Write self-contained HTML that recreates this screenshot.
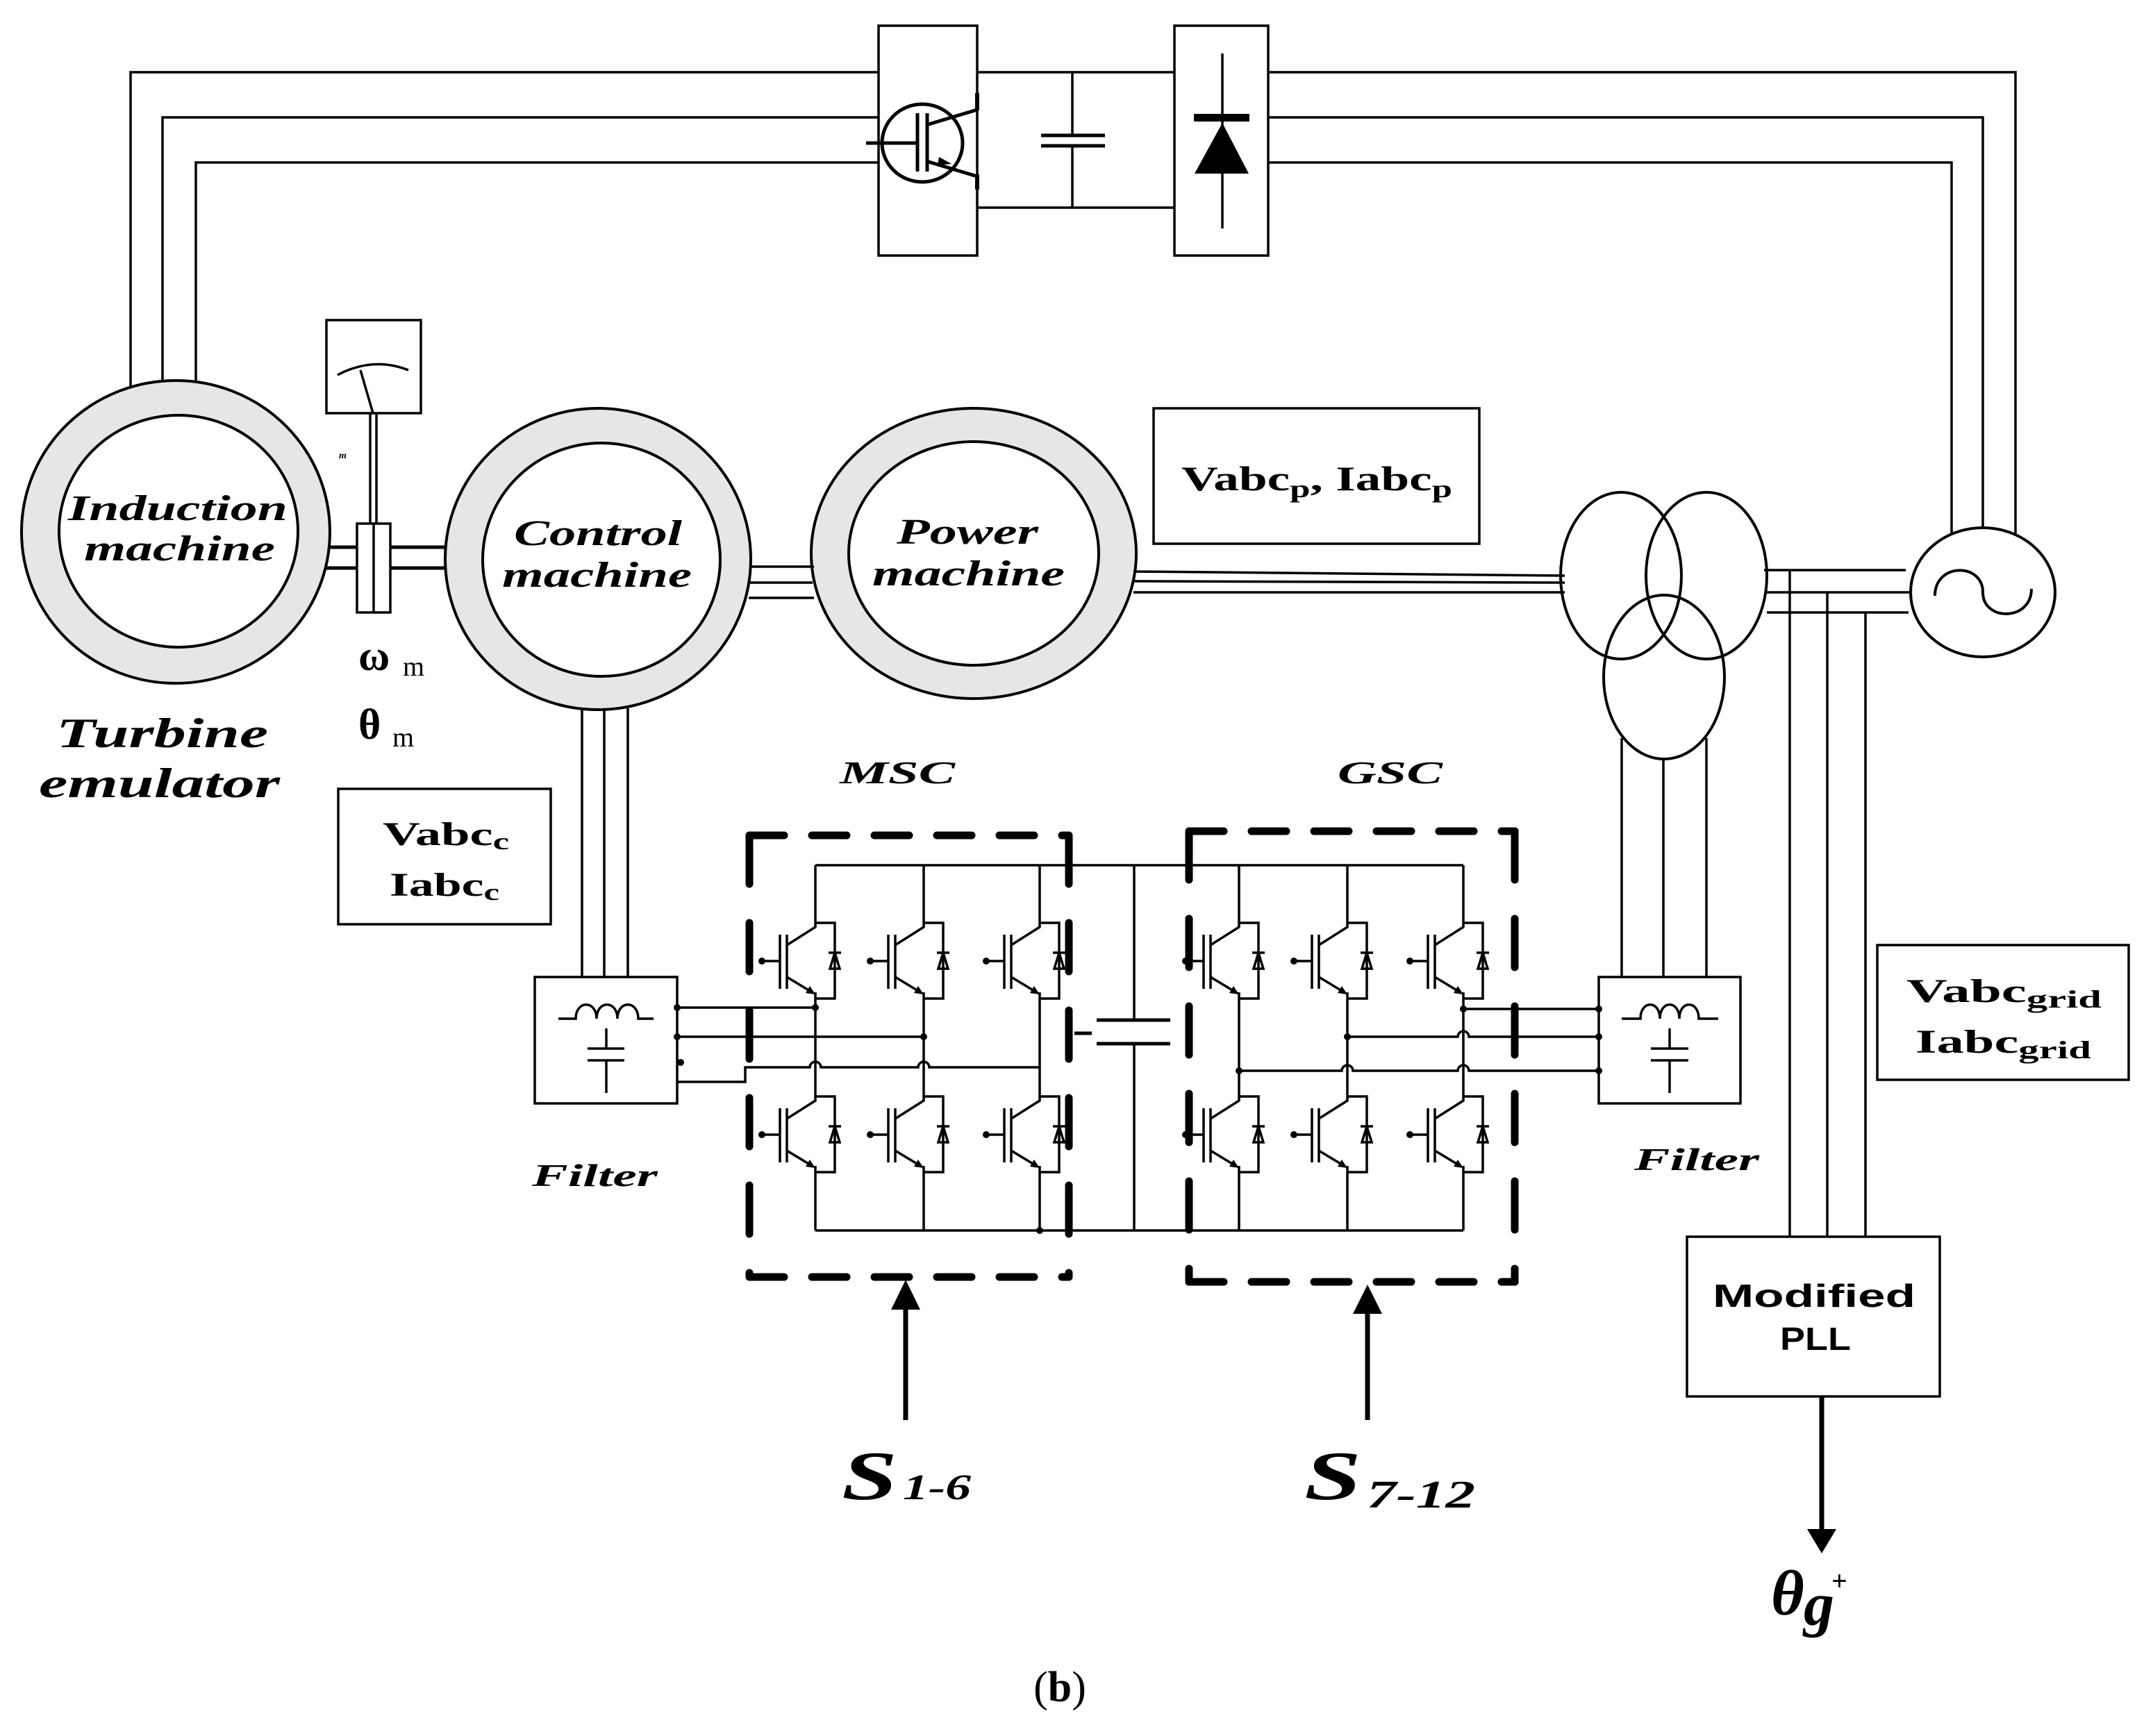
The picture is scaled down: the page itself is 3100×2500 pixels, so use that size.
<!DOCTYPE html>
<html><head><meta charset="utf-8"><style>html,body{margin:0;padding:0;background:#fff}svg{display:block}</style></head>
<body>
<svg xmlns="http://www.w3.org/2000/svg" width="3100" height="2500" viewBox="0 0 3100 2500">
<defs>
<symbol id="igbt" overflow="visible">
 <g fill="none" stroke="#000" stroke-width="3.5">
  <path d="M0,0 V6 L-41,32"/>
  <path d="M-41,17 V95"/>
  <path d="M-51,17 V95"/>
  <path d="M-77,55 H-51"/>
  <path d="M-41,78 L-3,101"/>
  <path d="M0,100 V109"/>
  <path d="M0,0 H28 V109 H0"/>
  <path d="M19,43 H37"/>
  <path d="M28,43 L21,66 H35 Z"/>
 </g>
 <circle cx="-77" cy="55" r="5" fill="#000"/>
 <path d="M0,103 L-14,101 L-8,91 Z" fill="#000"/>
</symbol>
</defs>
<g fill="none" stroke="#000" stroke-width="3.5">
 <path d="M188,558 V104 H1265"/>
 <path d="M234,549 V169 H1265"/>
 <path d="M282,550 V234 H1265"/>
 <path d="M1826,104 H2902 V770"/>
 <path d="M1826,169 H2855 V760"/>
 <path d="M1826,234 H2810 V769"/>
 <rect x="1265" y="37" width="142" height="331"/>
 <rect x="1691" y="37" width="135" height="331"/>
 <path d="M1407,104 H1691 M1407,299 H1691"/>
 <path d="M1544,104 V195 M1544,210 V299"/>
 <path d="M1499,195 H1591 M1499,210 H1591" stroke-width="5"/>
 <ellipse cx="1328" cy="206" rx="58" ry="56" stroke-width="5"/>
 <path d="M1247,206 H1319" stroke-width="5"/>
 <path d="M1321,163 V247 M1335,163 V247" stroke-width="5"/>
 <path d="M1337,179 L1407,158 M1337,233 L1407,254" stroke-width="5"/>
 <path d="M1407,134 V159 M1407,251 V273" stroke-width="6"/>
 <path d="M1760,77 V329"/>
</g>
<rect x="1719" y="164" width="80" height="11" fill="#000"/>
<path d="M1760,177 L1720,250 H1798 Z" fill="#000"/>
<path d="M1370,236 L1352,226 L1350,238 Z" fill="#000"/>

<g stroke="#000" stroke-width="4">
 <ellipse cx="253" cy="766" rx="222" ry="218" fill="#e6e6e6"/>
 <ellipse cx="257" cy="765" rx="172" ry="167" fill="#fff"/>
 <ellipse cx="861" cy="805" rx="220" ry="217" fill="#e6e6e6"/>
 <ellipse cx="866" cy="806" rx="171" ry="168" fill="#fff"/>
 <ellipse cx="1402" cy="797" rx="234" ry="209" fill="#e6e6e6"/>
 <ellipse cx="1402" cy="797" rx="180" ry="161" fill="#fff"/>
</g>
<g fill="none" stroke="#000" stroke-width="3.5">
 <rect x="470" y="461" width="136" height="134"/>
 <path d="M486,540 Q537,513 588,533"/>
 <path d="M537,595 L519,533"/>
 <path d="M533,595 V754 M542,595 V754"/>
 <rect x="514" y="754" width="48" height="128"/>
 <path d="M538,754 V882"/>
 <path d="M473,788 H514 M470,818 H514 M562,788 H643 M562,818 H641" stroke-width="5"/>
 <path d="M1079,816 H1172 M1080,839 H1170 M1078,861 H1172"/>
 <path d="M1632,823 L2253,829 M1634,837 L2253,839 M1632,853 L2253,853"/>
 <rect x="1661" y="588" width="469" height="195"/>
 <ellipse cx="2334" cy="829" rx="87" ry="120" stroke-width="4"/>
 <ellipse cx="2457" cy="829" rx="87" ry="120" stroke-width="4"/>
 <ellipse cx="2396" cy="975" rx="87" ry="118" stroke-width="4"/>
 <ellipse cx="2855" cy="853" rx="104" ry="93" stroke-width="4"/>
 <path d="M2786,858 C2786,810 2855,810 2855,853 C2855,895 2925,895 2925,848" stroke-width="4"/>
 <path d="M2540,821 H2744 M2544,853 H2751 M2544,882 H2748"/>
 <path d="M2577,821 V1781 M2631,853 V1781 M2686,882 V1781"/>
 <path d="M838,1020 V1407 M870,1022 V1407 M904,1020 V1407"/>
 <path d="M2335,1063 V1407 M2395,1093 V1407 M2457,1063 V1407"/>
 <rect x="487" y="1136" width="306" height="195"/>
 <rect x="770" y="1407" width="205" height="182"/>
 <path d="M804,1467 H829 C829,1440 859,1440 859,1467 C859,1440 889,1440 889,1467 C889,1440 919,1440 919,1467 H941"/>
 <path d="M873,1481 V1510 M873,1527 V1574 M846,1510 H899 M846,1527 H899"/>
 <rect x="2302" y="1407" width="204" height="182"/>
 <path d="M2335,1467 H2362 C2362,1440 2390,1440 2390,1467 C2390,1440 2418,1440 2418,1467 C2418,1440 2446,1440 2446,1467 H2474"/>
 <path d="M2404,1481 V1510 M2404,1527 V1574 M2377,1510 H2431 M2377,1527 H2431"/>
 <rect x="2703" y="1361" width="362" height="194"/>
 <rect x="2429" y="1781" width="364" height="230"/>
 <path d="M1174,1246 H2107 M1174,1772 H2107"/>
 <path d="M1633,1246 V1469 M1633,1503 V1772"/>
 <path d="M1579,1469 H1685 M1579,1503 H1685" stroke-width="5"/>
 <path d="M1547,1488 H1572" stroke-width="5"/>
 <path d="M1174,1246 V1329 M1174,1438 V1579 M1174,1688 V1772"/>
 <path d="M1330,1246 V1329 M1330,1438 V1579 M1330,1688 V1772"/>
 <path d="M1497,1246 V1329 M1497,1438 V1579 M1497,1688 V1772"/>
 <path d="M1784,1246 V1329 M1784,1438 V1579 M1784,1688 V1772"/>
 <path d="M1940,1246 V1329 M1940,1438 V1579 M1940,1688 V1772"/>
 <path d="M2107,1246 V1329 M2107,1438 V1579 M2107,1688 V1772"/>
 <path d="M975,1451 H1174"/>
 <path d="M975,1493 H1330"/>
 <path d="M975,1558 H1073 V1537 H1166 A8,8 0 0 1 1182,1537 H1322 A8,8 0 0 1 1338,1537 H1497"/>
 <path d="M2107,1453 H2302"/>
 <path d="M1940,1493 H2099 A8,8 0 0 1 2115,1493 H2302"/>
 <path d="M1784,1542 H1932 A8,8 0 0 1 1948,1542 H2099 A8,8 0 0 1 2115,1542 H2302"/>
</g>
<g fill="#000">
 <circle cx="1174" cy="1451" r="5"/><circle cx="1330" cy="1493" r="5"/>
 <circle cx="1784" cy="1542" r="5"/><circle cx="1940" cy="1493" r="5"/><circle cx="2107" cy="1453" r="5"/>
 <circle cx="975" cy="1451" r="5"/><circle cx="975" cy="1493" r="5"/><circle cx="980" cy="1530" r="5"/>
 <circle cx="2302" cy="1453" r="5"/><circle cx="2302" cy="1493" r="5"/><circle cx="2302" cy="1542" r="5"/>
 <circle cx="1497" cy="1772" r="5"/>
</g>
<use href="#igbt" x="1174" y="1329"/><use href="#igbt" x="1174" y="1579"/>
<use href="#igbt" x="1330" y="1329"/><use href="#igbt" x="1330" y="1579"/>
<use href="#igbt" x="1497" y="1329"/><use href="#igbt" x="1497" y="1579"/>
<use href="#igbt" x="1784" y="1329"/><use href="#igbt" x="1784" y="1579"/>
<use href="#igbt" x="1940" y="1329"/><use href="#igbt" x="1940" y="1579"/>
<use href="#igbt" x="2107" y="1329"/><use href="#igbt" x="2107" y="1579"/>
<g fill="none" stroke="#000" stroke-width="11" stroke-linecap="round">
 <path d="M1079,1203 H1539 M1079,1839 H1539" stroke-dasharray="50 40"/>
 <path d="M1079,1203 V1839 M1539,1203 V1839" stroke-dasharray="70 56"/>
 <path d="M1712,1197 H2181 M1712,1846 H2181" stroke-dasharray="50 40"/>
 <path d="M1712,1197 V1846 M2181,1197 V1846" stroke-dasharray="70 56"/>
</g>
<g stroke="#000" stroke-width="7" fill="none"><path d="M1304,2045 V1880"/><path d="M1969,2045 V1885"/><path d="M2623,2011 V2205"/></g>
<g fill="#000">
 <path d="M1304,1843 L1283,1886 H1325 Z"/>
 <path d="M1969,1850 L1948,1892 H1990 Z"/>
 <path d="M2623,2237 L2602,2202 H2644 Z"/>
</g>
<g font-family="'Liberation Serif',serif" font-weight="bold" font-style="italic" fill="#000">
 <text x="98" y="749" font-size="52" textLength="316" lengthAdjust="spacingAndGlyphs">Induction</text>
 <text x="121" y="807" font-size="52" textLength="275" lengthAdjust="spacingAndGlyphs">machine</text>
 <text x="740" y="785" font-size="52" textLength="242" lengthAdjust="spacingAndGlyphs">Control</text>
 <text x="723" y="845" font-size="52" textLength="273" lengthAdjust="spacingAndGlyphs">machine</text>
 <text x="1291" y="783" font-size="52" textLength="204" lengthAdjust="spacingAndGlyphs">Power</text>
 <text x="1256" y="843" font-size="52" textLength="277" lengthAdjust="spacingAndGlyphs">machine</text>
 <text x="81" y="1076" font-size="60" textLength="305" lengthAdjust="spacingAndGlyphs">Turbine</text>
 <text x="56" y="1148" font-size="60" textLength="347" lengthAdjust="spacingAndGlyphs">emulator</text>
 <text x="1209" y="1128" font-size="46" textLength="166" lengthAdjust="spacingAndGlyphs">MSC</text>
 <text x="1926" y="1128" font-size="46" textLength="151" lengthAdjust="spacingAndGlyphs">GSC</text>
 <text x="766" y="1708" font-size="46" textLength="181" lengthAdjust="spacingAndGlyphs">Filter</text>
 <text x="2353" y="1685" font-size="46" textLength="180" lengthAdjust="spacingAndGlyphs">Filter</text>
 <text x="1212" y="2159" font-size="100" textLength="80" lengthAdjust="spacingAndGlyphs">S</text>
 <text x="1300" y="2159" font-size="52" textLength="98" lengthAdjust="spacingAndGlyphs">1-6</text>
 <text x="1878" y="2159" font-size="100" textLength="82" lengthAdjust="spacingAndGlyphs">S</text>
 <text x="1968" y="2171" font-size="56" textLength="156" lengthAdjust="spacingAndGlyphs">7-12</text>
 <text x="2550" y="2325" font-size="92">θ</text>
 <text x="2597" y="2340" font-size="88">g</text>
 <text x="488" y="660" font-size="14">m</text>
</g>
<g font-family="'Liberation Serif',serif" font-weight="bold" fill="#000">
 <text x="1701" y="706" font-size="50" textLength="390" lengthAdjust="spacingAndGlyphs">Vabc<tspan font-size="36" dy="10">p</tspan><tspan dy="-10">, Iabc</tspan><tspan font-size="36" dy="10">p</tspan></text>
 <text x="551" y="1217" font-size="48" textLength="182" lengthAdjust="spacingAndGlyphs">Vabc<tspan font-size="34" dy="6">c</tspan></text>
 <text x="561" y="1290" font-size="48" textLength="158" lengthAdjust="spacingAndGlyphs">Iabc<tspan font-size="34" dy="6">c</tspan></text>
 <text x="2745" y="1443" font-size="48" textLength="281" lengthAdjust="spacingAndGlyphs">Vabc<tspan font-size="36" dy="8">grid</tspan></text>
 <text x="2758" y="1516" font-size="48" textLength="253" lengthAdjust="spacingAndGlyphs">Iabc<tspan font-size="36" dy="8">grid</tspan></text>
 <text x="516" y="965" font-size="62">ω</text>
 <text x="516" y="1064" font-size="62">θ</text>
 <text x="2637" y="2290" font-size="40">+</text>
</g>
<g font-family="'Liberation Serif',serif" fill="#000">
 <text x="580" y="973" font-size="40">m</text>
 <text x="565" y="1075" font-size="40">m</text>
 <text x="1526" y="2450" font-size="62" text-anchor="middle">(<tspan font-weight="bold">b</tspan>)</text>
</g>
<g font-family="'Liberation Sans',sans-serif" font-weight="bold" fill="#000">
 <text x="2466" y="1882" font-size="46" textLength="292" lengthAdjust="spacingAndGlyphs">Modified</text>
 <text x="2563" y="1944" font-size="46" textLength="102" lengthAdjust="spacingAndGlyphs">PLL</text>
</g>
</svg>
</body></html>
